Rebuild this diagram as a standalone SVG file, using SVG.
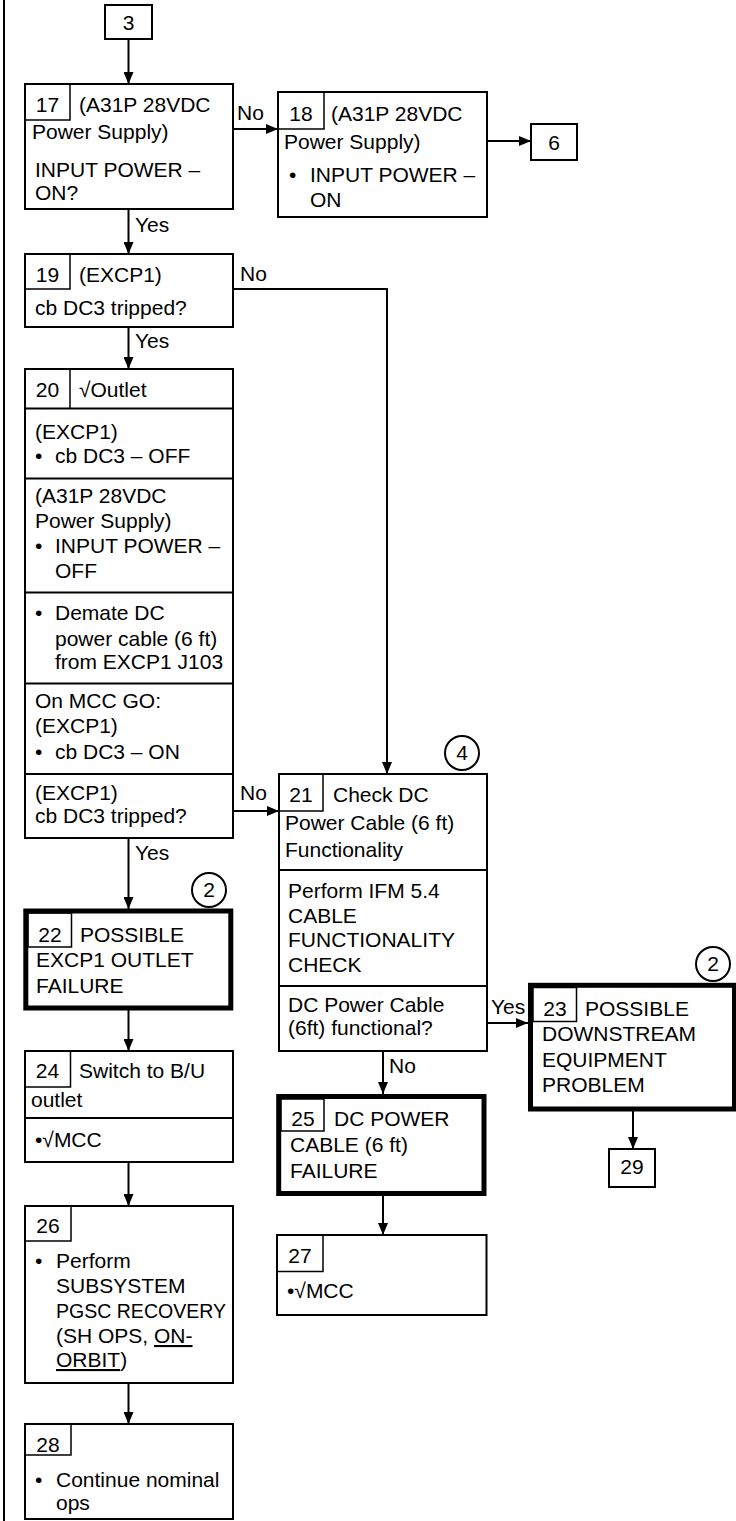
<svg xmlns="http://www.w3.org/2000/svg" width="736" height="1521" viewBox="0 0 736 1521">
<style>
text{font-family:"Liberation Sans",Arial,sans-serif;font-size:21px;fill:#000}
.b{fill:#fff;stroke:#000;stroke-width:2}
.t{fill:#fff;stroke:#000;stroke-width:5}
.n{fill:none;stroke:#000;stroke-width:1.5}
.s{stroke:#000;stroke-width:2}
.c{fill:none;stroke:#000;stroke-width:2}
.m{text-anchor:middle}
.u{text-decoration:underline}
</style>
<defs>
<marker id="ah" markerUnits="userSpaceOnUse" markerWidth="12" markerHeight="10" refX="12" refY="5" orient="auto"><path d="M0,0 L12,5 L0,10 z" fill="#000"/></marker>
</defs>
<line x1="4" y1="0" x2="4" y2="1521" stroke="#000" stroke-width="2"/>
<g id="connectors" fill="none" stroke="#000" stroke-width="2">
<line x1="128.5" y1="39" x2="128.5" y2="84" marker-end="url(#ah)"/>
<line x1="233" y1="129" x2="278" y2="129" marker-end="url(#ah)"/>
<line x1="487" y1="141" x2="531" y2="141" marker-end="url(#ah)"/>
<line x1="128.5" y1="209" x2="128.5" y2="254" marker-end="url(#ah)"/>
<path d="M233,289 H387 V774" marker-end="url(#ah)"/>
<line x1="128.5" y1="327" x2="128.5" y2="369" marker-end="url(#ah)"/>
<line x1="233" y1="811" x2="279" y2="811" marker-end="url(#ah)"/>
<line x1="128.5" y1="838" x2="128.5" y2="909" marker-end="url(#ah)"/>
<line x1="128.5" y1="1010" x2="128.5" y2="1051" marker-end="url(#ah)"/>
<line x1="128.5" y1="1162" x2="128.5" y2="1206" marker-end="url(#ah)"/>
<line x1="128.5" y1="1383" x2="128.5" y2="1424" marker-end="url(#ah)"/>
<line x1="487" y1="1023" x2="528" y2="1023" marker-end="url(#ah)"/>
<line x1="383" y1="1051" x2="383" y2="1094" marker-end="url(#ah)"/>
<line x1="383" y1="1196" x2="383" y2="1235" marker-end="url(#ah)"/>
<line x1="633" y1="1111" x2="633" y2="1149" marker-end="url(#ah)"/>
</g>
<g id="labels">
<text x="237" y="120">No</text>
<text x="135" y="232">Yes</text>
<text x="240" y="281">No</text>
<text x="135" y="348">Yes</text>
<text x="240" y="800">No</text>
<text x="135" y="860">Yes</text>
<text x="491" y="1014">Yes</text>
<text x="389" y="1073">No</text>
</g>
<g id="n3"><rect class="b" x="105" y="5" width="47" height="34"/><text class="m" x="128.5" y="30">3</text></g>
<g id="n17">
<rect class="b" x="25" y="84" width="208" height="125"/>
<rect class="n" x="25" y="84" width="45" height="36"/>
<text class="m" x="47.5" y="112">17</text>
<text x="79" y="112">(A31P 28VDC</text>
<text x="32" y="139">Power Supply)</text>
<text x="35" y="177">INPUT POWER –</text>
<text x="35" y="200">ON?</text>
</g>
<g id="n18">
<rect class="b" x="278" y="92" width="209" height="125"/>
<rect class="n" x="278" y="92" width="46" height="37"/>
<text class="m" x="301" y="121">18</text>
<text x="331" y="121">(A31P 28VDC</text>
<text x="284" y="149">Power Supply)</text>
<text x="289" y="182">•</text>
<text x="310" y="182">INPUT POWER –</text>
<text x="310" y="207">ON</text>
</g>
<g id="n6"><rect class="b" x="531" y="124" width="46" height="36"/><text class="m" x="554" y="150">6</text></g>
<g id="n19">
<rect class="b" x="25" y="254" width="208" height="73"/>
<rect class="n" x="25" y="254" width="45" height="35"/>
<text class="m" x="47.5" y="282">19</text>
<text x="79" y="282">(EXCP1)</text>
<text x="35" y="315">cb DC3 tripped?</text>
</g>
<g id="n20">
<rect class="b" x="25" y="369" width="208" height="469"/>
<line class="n" x1="70" y1="369" x2="70" y2="408"/>
<line class="s" x1="25" y1="408.5" x2="233" y2="408.5"/>
<line class="s" x1="25" y1="478.5" x2="233" y2="478.5"/>
<line class="s" x1="25" y1="592.5" x2="233" y2="592.5"/>
<line class="s" x1="25" y1="683.5" x2="233" y2="683.5"/>
<line class="s" x1="25" y1="774" x2="233" y2="774"/>
<text class="m" x="47.5" y="397">20</text>
<text x="79" y="397">√Outlet</text>
<text x="35" y="439">(EXCP1)</text>
<text x="35" y="463">•</text><text x="55" y="463">cb DC3 – OFF</text>
<text x="35" y="503">(A31P 28VDC</text>
<text x="35" y="528">Power Supply)</text>
<text x="35" y="553">•</text><text x="55" y="553">INPUT POWER –</text>
<text x="55" y="578">OFF</text>
<text x="35" y="620">•</text><text x="55" y="620">Demate DC</text>
<text x="55" y="646">power cable (6 ft)</text>
<text x="55" y="669">from EXCP1 J103</text>
<text x="35" y="708">On MCC GO:</text>
<text x="35" y="733">(EXCP1)</text>
<text x="35" y="759">•</text><text x="55" y="759">cb DC3 – ON</text>
<text x="35" y="800">(EXCP1)</text>
<text x="35" y="823">cb DC3 tripped?</text>
</g>
<g id="n21">
<circle class="c" cx="462" cy="753" r="17"/><text class="m" x="462" y="760">4</text>
<rect class="b" x="279" y="774" width="208" height="277"/>
<rect class="n" x="279" y="774" width="44" height="37"/>
<line class="s" x1="279" y1="870" x2="487" y2="870"/>
<line class="s" x1="279" y1="986" x2="487" y2="986"/>
<text class="m" x="301" y="802">21</text>
<text x="333" y="802">Check DC</text>
<text x="285" y="830">Power Cable (6 ft)</text>
<text x="285" y="857">Functionality</text>
<text x="288" y="898">Perform IFM 5.4</text>
<text x="288" y="923">CABLE</text>
<text x="288" y="947" textLength="167" lengthAdjust="spacingAndGlyphs">FUNCTIONALITY</text>
<text x="288" y="972">CHECK</text>
<text x="288" y="1012">DC Power Cable</text>
<text x="288" y="1035">(6ft) functional?</text>
</g>
<g id="n22">
<circle class="c" cx="209" cy="890" r="17"/><text class="m" x="209" y="897">2</text>
<rect class="t" x="25.8" y="911" width="205" height="97"/>
<rect class="n" x="28" y="913" width="43.5" height="34"/>
<text class="m" x="50" y="942">22</text>
<text x="80" y="942">POSSIBLE</text>
<text x="36" y="967">EXCP1 OUTLET</text>
<text x="36" y="993">FAILURE</text>
</g>
<g id="n23">
<circle class="c" cx="713" cy="964" r="17"/><text class="m" x="713" y="971">2</text>
<rect class="t" x="530.5" y="985.3" width="204" height="123.7"/>
<rect class="n" x="533" y="987.5" width="43.5" height="34"/>
<text class="m" x="555" y="1016">23</text>
<text x="585" y="1016">POSSIBLE</text>
<text x="542" y="1041">DOWNSTREAM</text>
<text x="542" y="1067">EQUIPMENT</text>
<text x="542" y="1092">PROBLEM</text>
</g>
<g id="n29"><rect class="b" x="609" y="1149" width="46" height="38"/><text class="m" x="632" y="1174">29</text></g>
<g id="n24">
<rect class="b" x="25" y="1051" width="208" height="111"/>
<rect class="n" x="25" y="1051" width="45.5" height="36"/>
<line class="s" x1="25" y1="1118" x2="233" y2="1118"/>
<text class="m" x="47.5" y="1078">24</text>
<text x="79" y="1078">Switch to B/U</text>
<text x="31" y="1107">outlet</text>
<text x="35" y="1147">•√MCC</text>
</g>
<g id="n25">
<rect class="t" x="278.7" y="1096.5" width="205.3" height="97"/>
<rect class="n" x="281" y="1099" width="43" height="32"/>
<text class="m" x="303" y="1126">25</text>
<text x="334" y="1126">DC POWER</text>
<text x="290" y="1152">CABLE (6 ft)</text>
<text x="290" y="1178">FAILURE</text>
</g>
<g id="n27">
<rect class="b" x="277" y="1235" width="209.5" height="80"/>
<rect class="n" x="277" y="1235" width="46" height="36.5"/>
<text class="m" x="300" y="1263">27</text>
<text x="287" y="1298">•√MCC</text>
</g>
<g id="n26">
<rect class="b" x="25" y="1206" width="208" height="177"/>
<rect class="n" x="25" y="1206" width="46" height="35"/>
<text class="m" x="48" y="1233">26</text>
<text x="35" y="1268">•</text><text x="56" y="1268">Perform</text>
<text x="56" y="1293">SUBSYSTEM</text>
<text x="56" y="1318" textLength="170" lengthAdjust="spacingAndGlyphs">PGSC RECOVERY</text>
<text x="56" y="1343">(SH OPS, <tspan class="u">ON-</tspan></text>
<text x="56" y="1367"><tspan class="u">ORBIT</tspan>)</text>
</g>
<g id="n28">
<rect class="b" x="25" y="1424" width="208" height="95"/>
<rect class="n" x="25" y="1424" width="46" height="31"/>
<text class="m" x="48" y="1452">28</text>
<text x="35" y="1487">•</text><text x="56" y="1487">Continue nominal</text>
<text x="56" y="1510">ops</text>
</g>
</svg>
